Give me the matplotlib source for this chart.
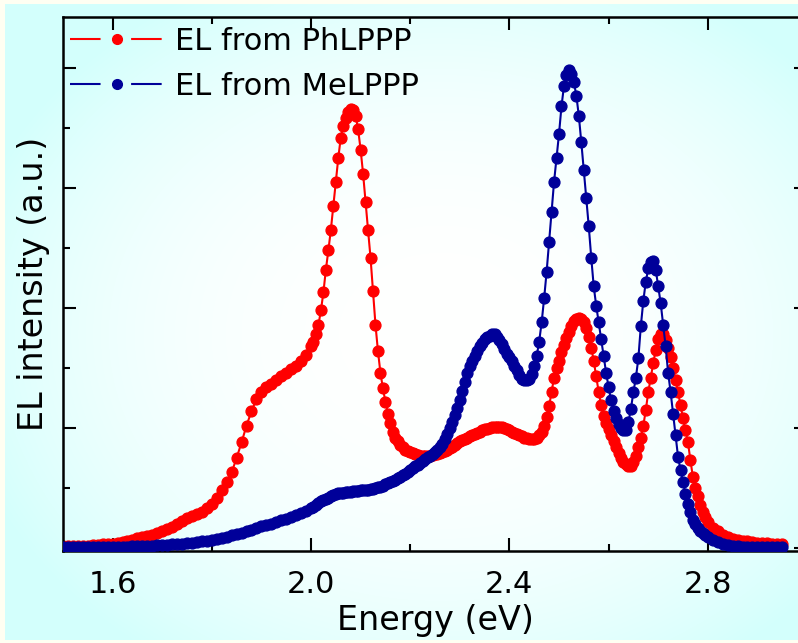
import numpy as np
import matplotlib
matplotlib.use("Agg")
import matplotlib.pyplot as plt
from matplotlib.lines import Line2D
from matplotlib.ticker import MultipleLocator

plt.rcParams['lines.scale_dashes'] = False
plt.rcParams['font.family'] = ['DejaVu Sans']

# energy grid (eV): 0.01 eV steps in the tails, 0.005 eV between 2.0 and 2.8
energy = np.round(np.concatenate([np.arange(150, 200) / 100,
                                  np.arange(400, 560) / 200,
                                  np.arange(280, 296) / 100]), 3)

# EL from PhLPPP (red)
el_ph = [
    # 1.50 - 1.99
    0.02, 0.02, 0.02, 0.02, 0.02, 0.02, 0.025, 0.025, 0.03, 0.03,
    0.035, 0.04, 0.05, 0.06, 0.07, 0.08, 0.09, 0.10, 0.11, 0.125,
    0.14, 0.155, 0.175, 0.20, 0.225, 0.25, 0.27, 0.285, 0.30, 0.33,
    0.37, 0.42, 0.48, 0.55, 0.63, 0.75, 0.88, 1.02, 1.14, 1.24,
    1.30, 1.34, 1.37, 1.40, 1.43, 1.46, 1.49, 1.52, 1.56, 1.61,
    # 2.000 - 2.795
    1.68, 1.72, 1.78, 1.86, 1.98, 2.13, 2.32, 2.48, 2.65, 2.85,
    3.05, 3.25, 3.42, 3.52, 3.58, 3.63, 3.66, 3.65, 3.60, 3.49,
    3.32, 3.12, 2.88, 2.65, 2.42, 2.14, 1.86, 1.64, 1.46, 1.33,
    1.22, 1.12, 1.04, 0.97, 0.92, 0.89, 0.86, 0.84, 0.82, 0.81,
    0.80, 0.79, 0.78, 0.775, 0.77, 0.77, 0.77, 0.77, 0.77, 0.775,
    0.78, 0.785, 0.79, 0.80, 0.81, 0.82, 0.83, 0.845, 0.86, 0.875,
    0.89, 0.90, 0.91, 0.92, 0.93, 0.94, 0.95, 0.96, 0.97, 0.98,
    0.99, 0.995, 1.00, 1.005, 1.01, 1.01, 1.01, 1.005, 1.00, 0.99,
    0.98, 0.97, 0.96, 0.95, 0.94, 0.93, 0.92, 0.915, 0.91, 0.91,
    0.91, 0.92, 0.94, 0.97, 1.02, 1.09, 1.18, 1.30, 1.42, 1.50,
    1.56, 1.63, 1.69, 1.75, 1.80, 1.85, 1.89, 1.91, 1.92, 1.91,
    1.88, 1.83, 1.76, 1.67, 1.56, 1.43, 1.30, 1.19, 1.10, 1.04,
    0.99, 0.94, 0.89, 0.84, 0.79, 0.75, 0.72, 0.70, 0.68, 0.68,
    0.72, 0.77, 0.84, 0.92, 1.02, 1.15, 1.30, 1.42, 1.54, 1.65,
    1.74, 1.78, 1.78, 1.73, 1.67, 1.59, 1.50, 1.40, 1.30, 1.19,
    1.08, 0.98, 0.88, 0.73, 0.59, 0.50, 0.43, 0.36, 0.30, 0.26,
    # 2.80 - 2.95
    0.22, 0.17, 0.14, 0.11, 0.09, 0.075, 0.065, 0.06, 0.055, 0.05,
    0.045, 0.042, 0.04, 0.035, 0.03, 0.03,
]

# EL from MeLPPP (blue)
el_me = [
    # 1.50 - 1.99
    0.01, 0.01, 0.01, 0.01, 0.01, 0.01, 0.01, 0.01, 0.01, 0.01,
    0.01, 0.01, 0.01, 0.012, 0.014, 0.015, 0.016, 0.018, 0.02, 0.022,
    0.025, 0.027, 0.03, 0.033, 0.036, 0.04, 0.045, 0.05, 0.055, 0.06,
    0.065, 0.075, 0.085, 0.095, 0.105, 0.115, 0.125, 0.14, 0.15, 0.165,
    0.18, 0.19, 0.20, 0.215, 0.23, 0.24, 0.26, 0.275, 0.29, 0.31,
    # 2.000 - 2.795
    0.33, 0.345, 0.36, 0.375, 0.39, 0.40, 0.41, 0.42, 0.43, 0.44,
    0.45, 0.455, 0.46, 0.462, 0.465, 0.467, 0.47, 0.472, 0.475, 0.477,
    0.48, 0.482, 0.485, 0.487, 0.49, 0.495, 0.50, 0.505, 0.51, 0.52,
    0.53, 0.54, 0.55, 0.56, 0.57, 0.58, 0.59, 0.605, 0.62, 0.635,
    0.65, 0.665, 0.68, 0.695, 0.71, 0.725, 0.74, 0.755, 0.77, 0.785,
    0.80, 0.82, 0.84, 0.87, 0.91, 0.95, 1.00, 1.05, 1.11, 1.17,
    1.23, 1.31, 1.38, 1.46, 1.52, 1.56, 1.60, 1.64, 1.68, 1.71,
    1.74, 1.76, 1.77, 1.78, 1.78, 1.76, 1.73, 1.70, 1.66, 1.62,
    1.59, 1.555, 1.52, 1.48, 1.44, 1.41, 1.40, 1.40, 1.41, 1.45,
    1.52, 1.60, 1.72, 1.88, 2.08, 2.30, 2.55, 2.80, 3.05, 3.25,
    3.45, 3.68, 3.85, 3.94, 3.98, 3.95, 3.88, 3.77, 3.60, 3.38,
    3.15, 2.92, 2.68, 2.42, 2.18, 2.02, 1.88, 1.74, 1.60, 1.46,
    1.34, 1.23, 1.14, 1.08, 1.03, 1.00, 0.98, 0.98, 1.05, 1.16,
    1.30, 1.42, 1.58, 1.85, 2.06, 2.22, 2.33, 2.38, 2.39, 2.32,
    2.18, 2.04, 1.86, 1.68, 1.46, 1.30, 1.12, 0.94, 0.76, 0.65,
    0.55, 0.45, 0.37, 0.30, 0.23, 0.20, 0.17, 0.145, 0.125, 0.105,
    # 2.80 - 2.95
    0.09, 0.067, 0.05, 0.035, 0.025, 0.02, 0.015, 0.01, 0.01, 0.01,
    0.01, 0.01, 0.01, 0.01, 0.01, 0.01,
]

labels = ['EL from PhLPPP', 'EL from MeLPPP']
colors = ['#ff0000', '#000099']
xticks = [1.6, 2.0, 2.4, 2.8]

fig = plt.figure(figsize=(7.98, 6.43), dpi=100)
fig.patch.set_facecolor('#fffff2')

# soft radial background
bg = fig.add_axes([5 / 798, 3 / 643, 1 - 5 / 798, 1 - 7 / 643], zorder=0)
gx, gy = np.meshgrid(np.linspace(0, 1, 400), np.linspace(0, 1, 320))
r = np.clip(((gx - 0.55) / 0.62) ** 2 + ((gy - 0.52) / 0.62) ** 2, 0, 1)
t = r ** 1.2
img = np.dstack([1 - 0.17 * t, np.ones_like(t), np.ones_like(t) - 0.01 * t])
bg.imshow(img, aspect='auto', extent=[0, 1, 0, 1], interpolation='bilinear')
bg.axis('off')

ax = fig.add_axes([63 / 798, 92 / 643, 744 / 798, 534 / 643], zorder=1)
ax.set_facecolor('none')

ax.plot(energy, el_ph, '-o', color=colors[0], lw=1.5, ms=7.8, mec=colors[0], zorder=2)
ax.plot(energy, el_me, '-o', color=colors[1], lw=1.5, ms=7.8, mec=colors[1], zorder=3)

ax.set_xlim(1.5, 3.0)
ax.set_ylim(-0.025, 4.425)
ax.set_xticks(xticks)
ax.set_xticklabels(['%.1f' % v for v in xticks])
ax.xaxis.set_minor_locator(MultipleLocator(0.2))
ax.yaxis.set_major_locator(MultipleLocator(1))
ax.yaxis.set_minor_locator(MultipleLocator(0.5))
ax.tick_params(which='both', direction='in', top=True, right=True, width=1.5)
ax.tick_params(which='major', length=9.5)
ax.tick_params(which='minor', length=5)
ax.tick_params(axis='x', labelsize=22, pad=14)
ax.tick_params(axis='y', labelleft=False)
for s in ax.spines.values():
    s.set_linewidth(1.8)

ax.set_xlabel('Energy (eV)', fontsize=24, labelpad=3)
ax.set_ylabel('EL intensity (a.u.)', fontsize=24, labelpad=6)

handles = [Line2D([], [], color=c, lw=1.5, marker='o', ms=7, dashes=(22, 22))
           for c in colors]
ax.legend(handles, labels, loc='upper left', bbox_to_anchor=(0.009, 0.982),
          frameon=False, fontsize=22, handlelength=3.1, handletextpad=0.35,
          numpoints=1, borderpad=0, borderaxespad=0, labelspacing=0.52)

fig.savefig('out.png', dpi=100, facecolor=fig.get_facecolor())
